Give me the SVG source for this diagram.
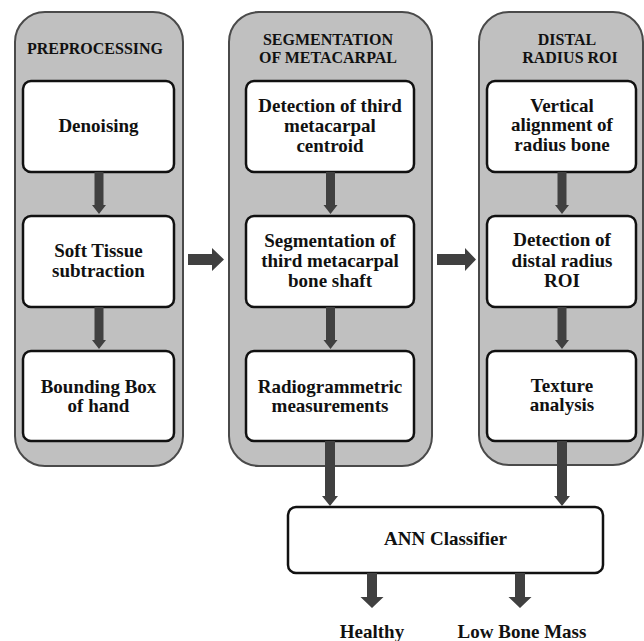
<svg xmlns="http://www.w3.org/2000/svg" width="644" height="641" viewBox="0 0 644 641">
<style>
.panel{fill:#c0c0c0;stroke:#4a4a4a;stroke-width:2}
.box{fill:#fff;stroke:#111;stroke-width:2.5}
.arr{fill:#404040}
text{font-family:"Liberation Serif","Times New Roman",serif;font-weight:bold;fill:#111;text-anchor:middle}
.h{font-size:16px}
.t{font-size:19px}
</style>
<rect x="0" y="0" width="644" height="641" fill="#fff"/>
<g id="panel-preprocessing">
<rect class="panel" x="15" y="12" width="168" height="454" rx="30"/>
<text class="h" x="95" y="54">PREPROCESSING</text>
</g>
<g id="panel-segmentation">
<rect class="panel" x="229" y="12" width="203" height="454" rx="30"/>
<text class="h" x="328" y="45">SEGMENTATION</text>
<text class="h" x="328" y="63">OF METACARPAL</text>
</g>
<g id="panel-distal">
<rect class="panel" x="479" y="12" width="164" height="453" rx="30"/>
<text class="h" x="567" y="45">DISTAL</text>
<text class="h" x="570" y="63">RADIUS ROI</text>
</g>
<g id="denoising">
<rect class="box" x="23" y="81" width="151" height="91" rx="8"/>
<text class="t" x="98.5" y="132">Denoising</text>
</g>
<g id="soft-tissue">
<rect class="box" x="23" y="216" width="151" height="91" rx="8"/>
<text class="t" x="98.5" y="257">Soft Tissue</text>
<text class="t" x="98.5" y="277">subtraction</text>
</g>
<g id="bounding-box">
<rect class="box" x="23" y="351" width="151" height="90" rx="8"/>
<text class="t" x="98.5" y="393">Bounding Box</text>
<text class="t" x="98.5" y="412">of hand</text>
</g>
<g id="detection-centroid">
<rect class="box" x="246" y="81" width="168" height="91" rx="8"/>
<text class="t" x="330" y="112">Detection of third</text>
<text class="t" x="330" y="132">metacarpal</text>
<text class="t" x="330" y="152">centroid</text>
</g>
<g id="segmentation-shaft">
<rect class="box" x="246" y="216" width="168" height="91" rx="8"/>
<text class="t" x="330" y="247">Segmentation of</text>
<text class="t" x="330" y="267">third metacarpal</text>
<text class="t" x="330" y="287">bone shaft</text>
</g>
<g id="radiogrammetric">
<rect class="box" x="246" y="351" width="168" height="90" rx="8"/>
<text class="t" x="330" y="393">Radiogrammetric</text>
<text class="t" x="330" y="412">measurements</text>
</g>
<g id="vertical-alignment">
<rect class="box" x="487" y="81" width="149" height="91" rx="8"/>
<text class="t" x="562" y="112">Vertical</text>
<text class="t" x="562" y="131">alignment of</text>
<text class="t" x="562" y="151">radius bone</text>
</g>
<g id="detection-roi">
<rect class="box" x="487" y="216" width="149" height="91" rx="8"/>
<text class="t" x="562" y="246">Detection of</text>
<text class="t" x="562" y="267">distal radius</text>
<text class="t" x="562" y="287">ROI</text>
</g>
<g id="texture">
<rect class="box" x="487" y="351" width="149" height="90" rx="8"/>
<text class="t" x="562" y="392">Texture</text>
<text class="t" x="562" y="411">analysis</text>
</g>
<g id="ann">
<rect class="box" x="288" y="507" width="315" height="66" rx="8"/>
<text class="t" x="445.5" y="545">ANN Classifier</text>
</g>
<g id="healthy">
<text class="t" x="372" y="638">Healthy</text>
</g>
<g id="low-bone-mass">
<text class="t" x="522" y="638">Low Bone Mass</text>
</g>
<g id="connectors">
<polygon class="arr" points="94.5,172 103.5,172 103.5,205 106,205 99,214 92,205 94.5,205"/>
<polygon class="arr" points="94.5,307 103.5,307 103.5,340 106,340 99,349 92,340 94.5,340"/>
<polygon class="arr" points="326,172 335,172 335,205 337.5,205 330.5,214 323.5,205 326,205"/>
<polygon class="arr" points="326,307 335,307 335,340 337.5,340 330.5,349 323.5,340 326,340"/>
<polygon class="arr" points="557.5,172 566.5,172 566.5,205 569,205 562,214 555,205 557.5,205"/>
<polygon class="arr" points="557.5,307 566.5,307 566.5,340 569,340 562,349 555,340 557.5,340"/>
<polygon class="arr" points="188,254 212,254 212,248 224,259.5 212,271 212,265 188,265"/>
<polygon class="arr" points="437,254 465,254 465,248 476,259.5 465,271 465,265 437,265"/>
<polygon class="arr" points="325,441 335,441 335,496 338,496 330,506 322,496 325,496"/>
<polygon class="arr" points="557,441 567,441 567,496 570,496 562,506 554,496 557,496"/>
<polygon class="arr" points="367,573 377,573 377,597 383.5,597 372,608 360.5,597 367,597"/>
<polygon class="arr" points="515,573 525,573 525,597 531.5,597 520,608 508.5,597 515,597"/>
</g>
</svg>
